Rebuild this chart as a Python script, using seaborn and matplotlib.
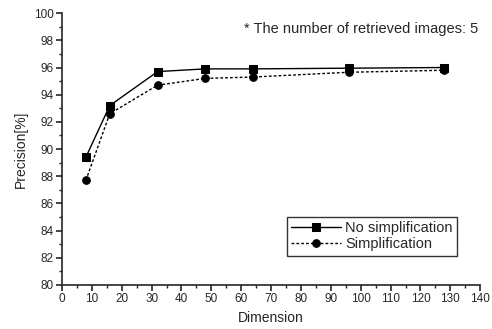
import matplotlib
matplotlib.use("Agg")
import matplotlib.pyplot as plt
import seaborn as sns
import pandas as pd
from matplotlib.ticker import MultipleLocator

sns.set_style("ticks")
plt.rcParams['font.family'] = ['Liberation Sans', 'DejaVu Sans']

dimension = [8, 16, 32, 48, 64, 96, 128]
no_simplification = [89.4, 93.2, 95.7, 95.9, 95.9, 95.95, 96.0]
simplification = [87.7, 92.6, 94.7, 95.2, 95.3, 95.65, 95.8]
series_names = ["No simplification", "Simplification"]

df = pd.DataFrame({
    "Dimension": dimension * 2,
    "Precision": no_simplification + simplification,
    "Series": [series_names[0]] * len(dimension) + [series_names[1]] * len(dimension),
})

fig = plt.figure(figsize=(4.92, 3.29), dpi=100)
ax = fig.add_axes([0.126, 0.134, 0.85, 0.826])

sns.lineplot(data=df, x="Dimension", y="Precision", hue="Series", style="Series",
             markers={series_names[0]: "s", series_names[1]: "o"},
             dashes={series_names[0]: "", series_names[1]: (2, 1.5)},
             palette={series_names[0]: "black", series_names[1]: "black"},
             markersize=5.5, linewidth=1.0, markeredgecolor="black", ax=ax, legend=True)

ax.set_xlim(0, 140)
ax.set_ylim(80, 100)
ax.xaxis.set_major_locator(MultipleLocator(10))
ax.xaxis.set_minor_locator(MultipleLocator(5))
ax.yaxis.set_major_locator(MultipleLocator(2))
ax.yaxis.set_minor_locator(MultipleLocator(1))
for s in ["top", "right"]:
    ax.spines[s].set_visible(False)
for s in ["left", "bottom"]:
    ax.spines[s].set_linewidth(1.2)
ax.tick_params(which="major", length=4, width=1.2, labelsize=8.5, direction="out", pad=2)
ax.tick_params(which="minor", length=2.5, width=1.0, direction="out")
ax.set_xlabel("Dimension", fontsize=10, labelpad=4)
ax.set_ylabel("Precision[%]", fontsize=10, labelpad=4)

ax.text(0.995, 0.94, "* The number of retrieved images: 5", transform=ax.transAxes,
        ha="right", va="center", fontsize=10.5)

leg = ax.legend(loc="lower right", bbox_to_anchor=(0.945, 0.107), borderaxespad=0,
                frameon=True, fancybox=False, edgecolor="black", fontsize=10.5,
                handlelength=3.4, borderpad=0.3, labelspacing=0.15, handletextpad=0.3)
leg.get_frame().set_linewidth(1.0)

fig.savefig("out.png", dpi=100)
